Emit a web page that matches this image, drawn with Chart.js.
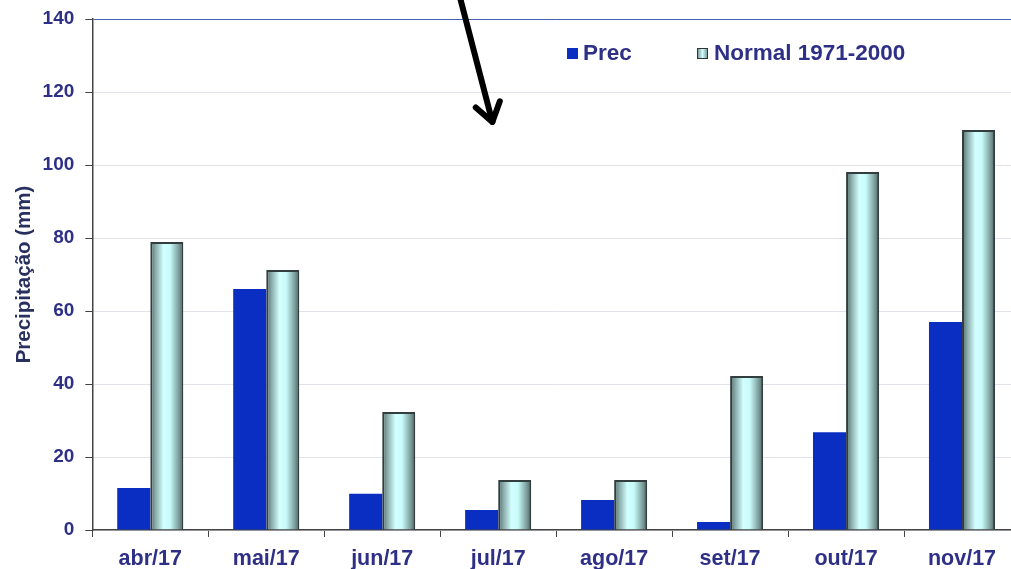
<!DOCTYPE html>
<html>
<head>
<meta charset="utf-8">
<script src="https://cdn.jsdelivr.net/npm/chart.js@4/dist/chart.umd.min.js"></script>
<style>
  html, body { margin: 0; padding: 0; background: #fff; overflow: hidden; }
  #wrap { width: 1030px; height: 569px; }
</style>
</head>
<body>
<div id="wrap"><canvas id="myChart"></canvas></div>
<script>
var months = ['abr/17', 'mai/17', 'jun/17', 'jul/17', 'ago/17', 'set/17', 'out/17', 'nov/17'];
var prec = [11.5, 66.0, 9.9, 5.5, 8.2, 2.2, 26.8, 57.0];
var normal = [78.9, 71.2, 32.3, 13.7, 13.7, 42.2, 98.1, 109.6];
var yTicks = [0, 20, 40, 60, 80, 100, 120, 140];

var navy = '#2e2f86';
var precColor = '#0a2ec2';
var fontFam = '"Liberation Sans", Arial, sans-serif';

// cylinder-like shading on the normal bars
var shadeBars = {
    id: 'shadeBars',
    beforeDatasetsDraw: function(chart) {
        var c = chart.ctx;
        chart.getDatasetMeta(1).data.forEach(function(el) {
            var l = el.x - el.width / 2, r = el.x + el.width / 2;
            var g = c.createLinearGradient(l, 0, r, 0);
            g.addColorStop(0, '#4d6866');
            g.addColorStop(0.15, '#86a8a6');
            g.addColorStop(0.4, '#d2ffff');
            g.addColorStop(0.6, '#c8fbfb');
            g.addColorStop(0.85, '#80a2a0');
            g.addColorStop(1, '#4a6361');
            el.options.backgroundColor = g;
        });
    }
};

// legend + arrow
var extras = {
    id: 'extras',
    afterDraw: function(chart) {
        var c = chart.ctx;
        var x = chart.scales.x, y = chart.scales.y;
        c.save();
        // legend
        c.font = 'bold 22.5px ' + fontFam;
        c.textBaseline = 'middle';
        c.fillStyle = precColor;
        c.fillRect(567, 48, 11, 11);
        c.fillStyle = navy;
        c.fillText('Prec', 583, 54);
        var g = c.createLinearGradient(697, 0, 708, 0);
        g.addColorStop(0, '#6d8c8a');
        g.addColorStop(0.5, '#d2ffff');
        g.addColorStop(1, '#6d8c8a');
        c.fillStyle = g;
        c.fillRect(697, 48, 11, 11);
        c.strokeStyle = '#333';
        c.lineWidth = 1;
        c.strokeRect(697.5, 48.5, 10, 10);
        c.fillStyle = navy;
        c.fillText('Normal 1971-2000', 714, 54);

        // arrow, placed in data units
        var x0 = x.getPixelForValue(2.67), y0 = y.getPixelForValue(146);
        var x1 = x.getPixelForValue(2.95), y1 = y.getPixelForValue(111.8);
        c.strokeStyle = '#000';
        c.lineWidth = 6;
        c.lineCap = 'round';
        c.lineJoin = 'round';
        c.beginPath();
        c.moveTo(x0, y0);
        c.lineTo(x1, y1);
        c.stroke();
        var ang = Math.atan2(y1 - y0, x1 - x0);
        c.beginPath();
        c.moveTo(x1 - 22 * Math.cos(ang - 0.6), y1 - 22 * Math.sin(ang - 0.6));
        c.lineTo(x1, y1);
        c.lineTo(x1 - 22 * Math.cos(ang + 0.6), y1 - 22 * Math.sin(ang + 0.6));
        c.stroke();
        c.restore();
    }
};

var ctx = document.getElementById('myChart').getContext('2d');
var myChart = new Chart(ctx, {
    type: 'bar',
    data: {
        labels: months,
        datasets: [{
            label: 'Prec',
            data: prec,
            backgroundColor: precColor,
            borderWidth: 0
        }, {
            label: 'Normal 1971-2000',
            data: normal,
            backgroundColor: function() { return '#c8fbfb'; },
            borderColor: '#333d3d',
            borderWidth: 2
        }]
    },
    options: {
        responsive: true,
        maintainAspectRatio: false,
        animation: false,
        categoryPercentage: 0.57,
        barPercentage: 1.0,
        layout: { padding: { top: 19, left: 12, right: 10, bottom: 0 } },
        plugins: {
            legend: { display: false },
            tooltip: { enabled: false }
        },
        scales: {
            x: {
                afterFit: function(axis) { axis.height = 39; },
                grid: {
                    drawOnChartArea: false,
                    drawTicks: true,
                    tickLength: 7,
                    color: '#444'
                },
                border: { color: '#444', width: 1.5 },
                ticks: {
                    color: navy,
                    font: { family: fontFam, size: 21.5, weight: 'bold' },
                    padding: 9
                }
            },
            y: {
                min: 0,
                max: 140,
                afterBuildTicks: function(axis) {
                    axis.ticks = yTicks.map(function(v) { return { value: v }; });
                },
                afterFit: function(axis) { axis.paddingTop = 0; axis.paddingBottom = 0; },
                grid: {
                    color: function(c) { return c.tick && c.tick.value === 140 ? '#4a5fb0' : '#e2e2ea'; },
                    tickColor: '#444',
                    tickLength: 7,
                    lineWidth: 1
                },
                border: { color: '#444', width: 1.5 },
                ticks: {
                    color: navy,
                    font: { family: fontFam, size: 19, weight: 'bold' },
                    padding: 11
                },
                title: {
                    display: true,
                    text: 'Precipitação (mm)',
                    color: '#283060',
                    font: { family: fontFam, size: 20.5, weight: 'bold' },
                    padding: { top: 0, bottom: -5 }
                }
            }
        }
    },
    plugins: [shadeBars, extras]
});
</script>
</body>
</html>
